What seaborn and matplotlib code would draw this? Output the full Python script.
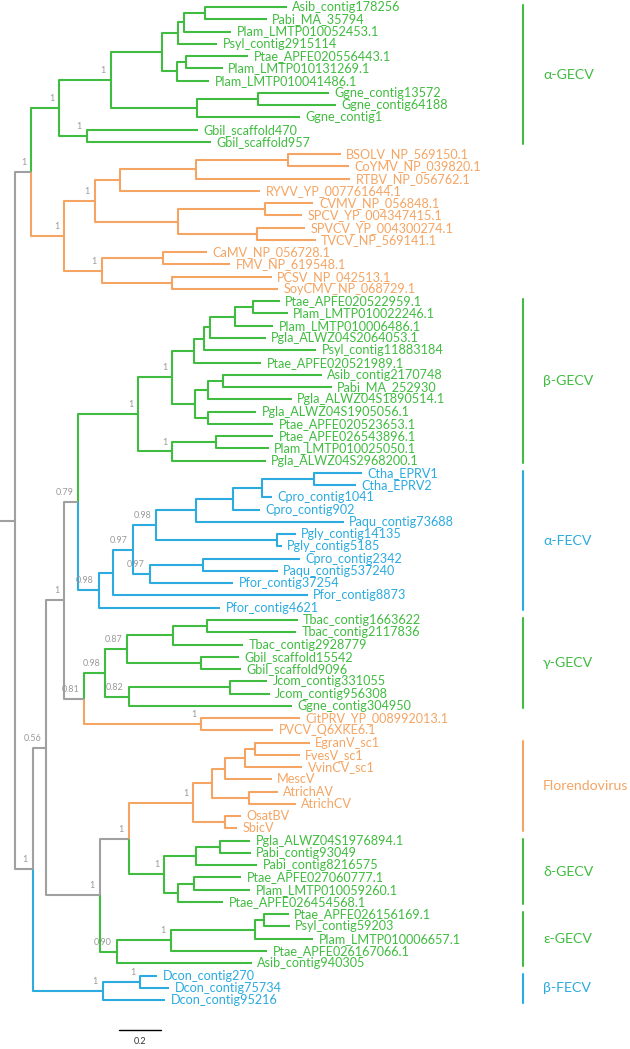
import numpy as np
import pandas as pd
import seaborn as sns
import matplotlib.pyplot as plt

# leaves, top to bottom: name, distance from root (substitutions/site), clade colour code
leaf_names = [
    "Asib_contig178256", "Pabi_MA_35794", "Plam_LMTP010052453.1", "Psyl_contig2915114",
    "Ptae_APFE020556443.1", "Plam_LMTP010131269.1", "Plam_LMTP010041486.1",
    "Ggne_contig13572", "Ggne_contig64188", "Ggne_contig1", "Gbil_scaffold470", "Gbil_scaffold957",
    "BSOLV_NP_569150.1", "CoYMV_NP_039820.1", "RTBV_NP_056762.1", "RYVV_YP_007761644.1",
    "CVMV_NP_056848.1", "SPCV_YP_004347415.1", "SPVCV_YP_004300274.1", "TVCV_NP_569141.1",
    "CaMV_NP_056728.1", "FMV_NP_619548.1", "PCSV_NP_042513.1", "SoyCMV_NP_068729.1",
    "Ptae_APFE020522959.1", "Plam_LMTP010022246.1", "Plam_LMTP010006486.1", "Pgla_ALWZ04S2064053.1",
    "Psyl_contig11883184", "Ptae_APFE020521989.1", "Asib_contig2170748", "Pabi_MA_252930",
    "Pgla_ALWZ04S1890514.1", "Pgla_ALWZ04S1905056.1", "Ptae_APFE020523653.1", "Ptae_APFE026543896.1",
    "Plam_LMTP010025050.1", "Pgla_ALWZ04S2968200.1",
    "Ctha_EPRV1", "Ctha_EPRV2", "Cpro_contig1041", "Cpro_contig902", "Paqu_contig73688",
    "Pgly_contig14135", "Pgly_contig5185", "Cpro_contig2342", "Paqu_contig537240",
    "Pfor_contig37254", "Pfor_contig8873", "Pfor_contig4621",
    "Tbac_contig1663622", "Tbac_contig2117836", "Tbac_contig2928779", "Gbil_scaffold15542",
    "Gbil_scaffold9096", "Jcom_contig331055", "Jcom_contig956308", "Ggne_contig304950",
    "CitPRV_YP_008992013.1", "PVCV_Q6XKE6.1",
    "EgranV_sc1", "FvesV_sc1", "VvinCV_sc1", "MescV", "AtrichAV", "AtrichCV", "OsatBV", "SbicV",
    "Pgla_ALWZ04S1976894.1", "Pabi_contig93049", "Pabi_contig8216575", "Ptae_APFE027060777.1",
    "Plam_LMTP010059260.1", "Ptae_APFE026454568.1",
    "Ptae_APFE026156169.1", "Psyl_contig59203", "Plam_LMTP010006657.1", "Ptae_APFE026167066.1",
    "Asib_contig940305",
    "Dcon_contig270", "Dcon_contig75734", "Dcon_contig95216",
]
leaf_depth = [
    1.313, 1.216, 1.044, 0.976, 1.128, 1.004, 0.939, 1.517, 1.551, 1.377, 0.886, 0.946,
    1.574, 1.615, 1.619, 1.184, 1.442, 1.386, 1.401, 1.453, 0.927, 1.039, 1.241, 1.272,
    1.279, 1.317, 1.249, 1.211, 1.454, 1.191, 1.483, 1.531, 1.337, 1.166, 1.249, 1.249,
    1.226, 1.211,
    1.677, 1.648, 1.240, 1.182, 1.589, 1.357, 1.288, 1.376, 1.269, 1.055, 1.414, 0.993,
    1.366, 1.357, 1.104, 1.084, 1.094, 1.220, 1.230, 1.337, 1.376, 1.249,
    1.424, 1.376, 1.389, 1.240, 1.269, 1.357, 1.094, 1.074,
    1.137, 1.139, 1.171, 1.094, 1.137, 1.007,
    1.323, 1.327, 1.440, 1.220, 1.143,
    0.686, 0.744, 0.725,
]
leaf_clade = (["G"] * 12 + ["O"] * 12 + ["G"] * 14 + ["B"] * 12 + ["G"] * 8 + ["O"] * 10
              + ["G"] * 11 + ["B"] * 3)

# internal nodes: children (in drawing order), distance from root, posterior, clade colour code
node_names = [
    "root", "n1", "aG", "aGt", "A1", "B1", "C1", "AP", "B2", "PP", "Gg", "Gg2", "Gb",
    "orng", "O1", "O2", "O3", "O4", "O5", "O6", "O7", "O8", "O9", "O10",
    "nL", "g1", "g2", "g3",
    "bG", "bG1", "bG2", "bG3", "bG4", "bG5", "bG6", "bG7", "bG8", "bG9", "bG10", "bG11", "bG12",
    "aF", "aF1", "aF2", "aF3", "aF4", "aF5", "aF6", "aF7", "aF8", "aF9", "aF10",
    "g4", "gG", "gG1", "gG2", "gG3", "gG4", "gG5", "gG6", "cit",
    "g5", "g6", "Fl", "Fl1", "Fl2", "Fl3", "Fl4", "Fl5", "Fl6",
    "dG", "dG1", "dG2", "dG3", "dG4", "eG0", "eG", "eG1", "eG2", "bF", "bF1",
]
node_children = [
    ["n1", "nL"], ["aG", "orng"], ["aGt", "Gb"], ["A1", "Gg"], ["B1", "B2"],
    ["C1", "Psyl_contig2915114"], ["AP", "Plam_LMTP010052453.1"], ["Asib_contig178256", "Pabi_MA_35794"],
    ["PP", "Plam_LMTP010041486.1"], ["Ptae_APFE020556443.1", "Plam_LMTP010131269.1"],
    ["Gg2", "Ggne_contig1"], ["Ggne_contig13572", "Ggne_contig64188"], ["Gbil_scaffold470", "Gbil_scaffold957"],
    ["O1", "O8"], ["O2", "O5"], ["O3", "RYVV_YP_007761644.1"], ["O4", "RTBV_NP_056762.1"],
    ["BSOLV_NP_569150.1", "CoYMV_NP_039820.1"], ["O6", "O7"],
    ["CVMV_NP_056848.1", "SPCV_YP_004347415.1"], ["SPVCV_YP_004300274.1", "TVCV_NP_569141.1"],
    ["O9", "O10"], ["CaMV_NP_056728.1", "FMV_NP_619548.1"], ["PCSV_NP_042513.1", "SoyCMV_NP_068729.1"],
    ["g1", "bF"], ["g2", "g5"], ["g3", "g4"], ["bG", "aF"],
    ["bG1", "bG11"], ["bG2", "bG7"], ["bG3", "Ptae_APFE020521989.1"], ["bG4", "Psyl_contig11883184"],
    ["bG5", "Pgla_ALWZ04S2064053.1"], ["bG6", "Plam_LMTP010006486.1"],
    ["Ptae_APFE020522959.1", "Plam_LMTP010022246.1"], ["bG8", "bG10"], ["bG9", "Pgla_ALWZ04S1890514.1"],
    ["Asib_contig2170748", "Pabi_MA_252930"], ["Pgla_ALWZ04S1905056.1", "Ptae_APFE020523653.1"],
    ["bG12", "Pgla_ALWZ04S2968200.1"], ["Ptae_APFE026543896.1", "Plam_LMTP010025050.1"],
    ["aF1", "Pfor_contig4621"], ["aF2", "Pfor_contig8873"], ["aF3", "aF9"], ["aF4", "aF8"],
    ["aF5", "Paqu_contig73688"], ["aF6", "Cpro_contig902"], ["aF7", "Cpro_contig1041"],
    ["Ctha_EPRV1", "Ctha_EPRV2"], ["Pgly_contig14135", "Pgly_contig5185"], ["aF10", "Pfor_contig37254"],
    ["Cpro_contig2342", "Paqu_contig537240"],
    ["gG", "cit"], ["gG1", "gG5"], ["gG2", "gG4"], ["gG3", "Tbac_contig2928779"],
    ["Tbac_contig1663622", "Tbac_contig2117836"], ["Gbil_scaffold15542", "Gbil_scaffold9096"],
    ["gG6", "Ggne_contig304950"], ["Jcom_contig331055", "Jcom_contig956308"],
    ["CitPRV_YP_008992013.1", "PVCV_Q6XKE6.1"],
    ["g6", "eG0"], ["Fl", "dG"], ["Fl1", "Fl6"], ["Fl2", "Fl5"], ["Fl3", "MescV"], ["Fl4", "VvinCV_sc1"],
    ["EgranV_sc1", "FvesV_sc1"], ["AtrichAV", "AtrichCV"], ["OsatBV", "SbicV"],
    ["dG1", "dG3"], ["dG2", "Pabi_contig8216575"], ["Pgla_ALWZ04S1976894.1", "Pabi_contig93049"],
    ["dG4", "Ptae_APFE026454568.1"], ["Ptae_APFE027060777.1", "Plam_LMTP010059260.1"],
    ["eG", "Asib_contig940305"], ["eG1", "Ptae_APFE026167066.1"], ["eG2", "Plam_LMTP010006657.1"],
    ["Ptae_APFE026156169.1", "Psyl_contig59203"],
    ["bF1", "Dcon_contig95216"], ["Dcon_contig270", "Dcon_contig75734"],
]
node_depth = [
    0.0, 0.080, 0.215, 0.463, 0.712, 0.786, 0.818, 0.916, 0.782, 0.826, 0.881, 1.172, 0.346,
    0.239, 0.385, 0.507, 0.874, 1.318, 0.786, 1.210, 1.171, 0.420, 0.714, 0.757,
    0.087, 0.152, 0.239, 0.307,
    0.595, 0.760, 0.865, 0.915, 0.943, 1.065, 1.152, 0.871, 0.933, 1.007, 0.933, 0.760, 0.971,
    0.404, 0.472, 0.569, 0.682, 0.876, 1.055, 1.195, 1.444, 1.265, 0.651, 0.909,
    0.336, 0.437, 0.542, 0.764, 0.929, 0.900, 0.550, 1.040, 0.900,
    0.410, 0.550, 0.861, 0.954, 1.013, 1.114, 1.162, 1.133, 1.016,
    0.721, 0.874, 0.991, 0.789, 0.865, 0.492, 0.754, 1.162, 1.205, 0.424, 0.606,
]
node_support = [
    "", "1", "1", "1", "", "", "", "", "", "", "", "", "1",
    "1", "1", "", "", "", "", "", "", "1", "", "",
    "1", "0.56", "1", "0.79",
    "1", "1", "", "", "", "", "", "", "", "", "", "1", "",
    "0.98", "", "0.97", "0.98", "", "", "", "", "", "0.97", "",
    "0.81", "0.98", "0.87", "", "", "", "0.82", "", "1",
    "1", "1", "1", "", "", "", "", "", "",
    "1", "", "", "", "", "0.90", "1", "", "", "1", "1",
]
node_clade = (["N", "N"] + ["G"] * 11 + ["O"] * 11 + ["N"] * 4 + ["G"] * 13 + ["B"] * 11
              + ["N"] + ["G"] * 7 + ["O"] + ["N", "N"] + ["O"] * 7 + ["G"] * 9 + ["B"] * 2)

# clade brackets on the right
clade_labels = ["α-GECV", "β-GECV", "α-FECV", "γ-GECV", "Florendovirus", "δ-GECV", "ε-GECV", "β-FECV"]
clade_first = ["Asib_contig178256", "Ptae_APFE020522959.1", "Ctha_EPRV1", "Tbac_contig1663622",
               "EgranV_sc1", "Pgla_ALWZ04S1976894.1", "Ptae_APFE026156169.1", "Dcon_contig270"]
clade_last = ["Gbil_scaffold957", "Pgla_ALWZ04S2968200.1", "Pfor_contig4621", "Ggne_contig304950",
              "SbicV", "Ptae_APFE026454568.1", "Asib_contig940305", "Dcon_contig95216"]
clade_code = ["G", "G", "B", "G", "O", "G", "G", "B"]

palette = {"G": "#40bc40", "O": "#f5a563", "B": "#2babdf", "N": "#a0a0a0"}

# ---- layout -----------------------------------------------------------------
depth = dict(zip(leaf_names, leaf_depth))
depth.update(zip(node_names, node_depth))
clade = dict(zip(leaf_names, leaf_clade))
clade.update(zip(node_names, node_clade))
children = dict(zip(node_names, node_children))
support = dict(zip(node_names, node_support))

ypos = {n: i for i, n in enumerate(leaf_names)}
parent = {}


def place(n):
    if n in ypos:
        return ypos[n]
    kids = children[n]
    ys = [place(k) for k in kids]
    for k in kids:
        parent[k] = n
    ypos[n] = (ys[0] + ys[-1]) / 2
    return ypos[n]


place("root")

rows = []
for n, p in parent.items():
    pts = [(depth[p], ypos[p]), (depth[p], ypos[n]), (depth[n], ypos[n])]
    for x, y in pts:
        rows.append({"edge": n, "x": x, "y": y, "clade": clade[n]})
edges = pd.DataFrame(rows)

sns.set_theme(style="white")
plt.rcParams["font.family"] = ["Lato", "DejaVu Sans"]

W, H = 630, 1049
fig = plt.figure(figsize=(W / 100, H / 100), dpi=100)
ax = fig.add_axes([0, 0, 1, 1])
ppu = 207.0          # pixels per unit of branch length
x0, y0, dy = 14.9, 7.0, 12.26
ax.set_xlim(-x0 / ppu, (W - x0) / ppu)
ax.set_ylim((H - y0) / dy, -y0 / dy)
ax.axis("off")

sns.lineplot(data=edges, x="x", y="y", units="edge", estimator=None, sort=False,
             hue="clade", palette=palette, legend=False, lw=1.5, ax=ax,
             solid_joinstyle="round", solid_capstyle="butt")
# root stub
ax.plot([-x0 / ppu, 0], [ypos["root"]] * 2, color=palette["N"], lw=1.5)

for n in leaf_names:
    ax.text(depth[n] + 5.5 / ppu, ypos[n], n, color=palette[clade[n]], fontsize=9.1,
            va="center", ha="left")

for n in node_names:
    if support[n]:
        ax.text(depth[n] - 5 / ppu, ypos[n] - 0.4, support[n], color="#9a9a9a",
                fontsize=6.5, ha="right", va="bottom")

bx = (523 - x0) / ppu
for lab, a, b, c in zip(clade_labels, clade_first, clade_last, clade_code):
    ya, yb = ypos[a] - 0.15, ypos[b] + 0.2
    ax.plot([bx, bx], [ya, yb], color=palette[c], lw=1.5)
    ax.text(bx + 20 / ppu, (ya + yb) / 2, lab, color=palette[c], fontsize=10.2,
            va="center", ha="left")

# scale bar
sx = (119.3 - x0) / ppu
sy = (1030.3 - y0) / dy
ax.plot([sx, sx + 0.2], [sy, sy], color="black", lw=1.0)
ax.text(sx + 0.1, sy + 0.55, "0.2", ha="center", va="top", fontsize=6.5, color="#333333")

fig.savefig("out.png", dpi=100)
